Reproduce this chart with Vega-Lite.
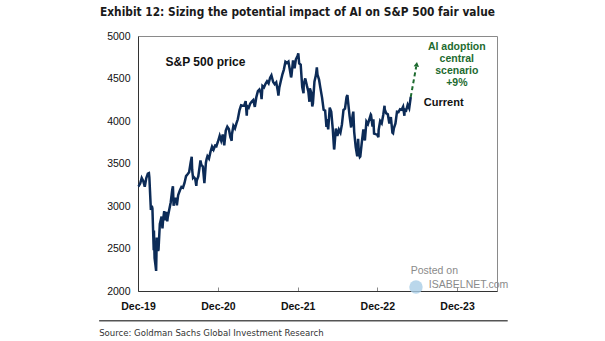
{
  "$schema": "https://vega.github.io/schema/vega-lite/v6.json",
  "width": 359,
  "height": 255,
  "autosize": {"type": "none"},
  "padding": {"left": 138, "top": 36, "right": 108, "bottom": 50},
  "background": "white",
  "title": {
    "text": "Exhibit 12: Sizing the potential impact of AI on S&P 500 fair value",
    "anchor": "start",
    "frame": "group",
    "dx": -38,
    "offset": 3,
    "baseline": "alphabetic",
    "font": "DejaVu Sans Condensed, Roboto, sans-serif",
    "fontSize": 11.8,
    "fontWeight": "bold",
    "color": "#1a1a1a"
  },
  "config": {
    "view": {"stroke": "#8a8a8a", "strokeWidth": 1},
    "font": "Liberation Sans"
  },
  "datasets": {
    "sp": [
      {"d": "2019-12-31", "v": 3231}, {"d": "2020-01-03", "v": 3235}, {"d": "2020-01-10", "v": 3265},
      {"d": "2020-01-17", "v": 3330}, {"d": "2020-01-24", "v": 3295}, {"d": "2020-01-31", "v": 3226},
      {"d": "2020-02-07", "v": 3328}, {"d": "2020-02-14", "v": 3380}, {"d": "2020-02-19", "v": 3386},
      {"d": "2020-02-21", "v": 3338}, {"d": "2020-02-28", "v": 2954}, {"d": "2020-03-03", "v": 3003},
      {"d": "2020-03-06", "v": 2972}, {"d": "2020-03-12", "v": 2481}, {"d": "2020-03-13", "v": 2711},
      {"d": "2020-03-16", "v": 2386}, {"d": "2020-03-20", "v": 2305}, {"d": "2020-03-23", "v": 2237},
      {"d": "2020-03-26", "v": 2630}, {"d": "2020-03-27", "v": 2541}, {"d": "2020-04-01", "v": 2471},
      {"d": "2020-04-03", "v": 2489}, {"d": "2020-04-09", "v": 2790}, {"d": "2020-04-17", "v": 2875},
      {"d": "2020-04-21", "v": 2737}, {"d": "2020-04-24", "v": 2837}, {"d": "2020-04-29", "v": 2940},
      {"d": "2020-05-01", "v": 2831}, {"d": "2020-05-08", "v": 2930}, {"d": "2020-05-13", "v": 2820},
      {"d": "2020-05-15", "v": 2864}, {"d": "2020-05-22", "v": 2955}, {"d": "2020-05-29", "v": 3044},
      {"d": "2020-06-05", "v": 3194}, {"d": "2020-06-08", "v": 3232}, {"d": "2020-06-11", "v": 3002},
      {"d": "2020-06-12", "v": 3041}, {"d": "2020-06-19", "v": 3098}, {"d": "2020-06-26", "v": 3009},
      {"d": "2020-07-02", "v": 3130}, {"d": "2020-07-10", "v": 3185}, {"d": "2020-07-17", "v": 3225},
      {"d": "2020-07-24", "v": 3216}, {"d": "2020-07-31", "v": 3271}, {"d": "2020-08-07", "v": 3351},
      {"d": "2020-08-14", "v": 3373}, {"d": "2020-08-21", "v": 3397}, {"d": "2020-08-28", "v": 3508},
      {"d": "2020-09-02", "v": 3580}, {"d": "2020-09-04", "v": 3427}, {"d": "2020-09-08", "v": 3332},
      {"d": "2020-09-11", "v": 3341}, {"d": "2020-09-18", "v": 3319}, {"d": "2020-09-23", "v": 3237},
      {"d": "2020-09-25", "v": 3298}, {"d": "2020-10-02", "v": 3348}, {"d": "2020-10-09", "v": 3477},
      {"d": "2020-10-12", "v": 3535}, {"d": "2020-10-16", "v": 3484}, {"d": "2020-10-23", "v": 3465},
      {"d": "2020-10-30", "v": 3270}, {"d": "2020-11-06", "v": 3510}, {"d": "2020-11-09", "v": 3550},
      {"d": "2020-11-13", "v": 3585}, {"d": "2020-11-20", "v": 3558}, {"d": "2020-11-27", "v": 3638},
      {"d": "2020-12-04", "v": 3699}, {"d": "2020-12-11", "v": 3663}, {"d": "2020-12-18", "v": 3709},
      {"d": "2020-12-24", "v": 3703}, {"d": "2020-12-31", "v": 3756}, {"d": "2021-01-08", "v": 3825},
      {"d": "2021-01-15", "v": 3768}, {"d": "2021-01-22", "v": 3841}, {"d": "2021-01-29", "v": 3714},
      {"d": "2021-02-05", "v": 3887}, {"d": "2021-02-12", "v": 3934}, {"d": "2021-02-19", "v": 3907},
      {"d": "2021-02-26", "v": 3811}, {"d": "2021-03-04", "v": 3768}, {"d": "2021-03-05", "v": 3842},
      {"d": "2021-03-12", "v": 3943}, {"d": "2021-03-19", "v": 3913}, {"d": "2021-03-26", "v": 3975},
      {"d": "2021-04-01", "v": 4020}, {"d": "2021-04-09", "v": 4129}, {"d": "2021-04-16", "v": 4185},
      {"d": "2021-04-23", "v": 4180}, {"d": "2021-04-30", "v": 4181}, {"d": "2021-05-07", "v": 4233},
      {"d": "2021-05-12", "v": 4063}, {"d": "2021-05-14", "v": 4174}, {"d": "2021-05-21", "v": 4156},
      {"d": "2021-05-28", "v": 4204}, {"d": "2021-06-04", "v": 4230}, {"d": "2021-06-11", "v": 4247},
      {"d": "2021-06-18", "v": 4166}, {"d": "2021-06-25", "v": 4281}, {"d": "2021-07-02", "v": 4352},
      {"d": "2021-07-09", "v": 4370}, {"d": "2021-07-16", "v": 4327}, {"d": "2021-07-19", "v": 4258},
      {"d": "2021-07-23", "v": 4412}, {"d": "2021-07-30", "v": 4395}, {"d": "2021-08-06", "v": 4437},
      {"d": "2021-08-13", "v": 4468}, {"d": "2021-08-20", "v": 4442}, {"d": "2021-08-27", "v": 4509},
      {"d": "2021-09-02", "v": 4537}, {"d": "2021-09-10", "v": 4459}, {"d": "2021-09-17", "v": 4433},
      {"d": "2021-09-24", "v": 4455}, {"d": "2021-10-01", "v": 4357}, {"d": "2021-10-04", "v": 4300},
      {"d": "2021-10-08", "v": 4391}, {"d": "2021-10-15", "v": 4471}, {"d": "2021-10-22", "v": 4545},
      {"d": "2021-10-29", "v": 4605}, {"d": "2021-11-05", "v": 4697}, {"d": "2021-11-12", "v": 4682},
      {"d": "2021-11-19", "v": 4698}, {"d": "2021-11-26", "v": 4595}, {"d": "2021-12-01", "v": 4513},
      {"d": "2021-12-03", "v": 4538}, {"d": "2021-12-10", "v": 4712}, {"d": "2021-12-17", "v": 4620},
      {"d": "2021-12-23", "v": 4726}, {"d": "2021-12-31", "v": 4766}, {"d": "2022-01-03", "v": 4797},
      {"d": "2022-01-07", "v": 4677}, {"d": "2022-01-14", "v": 4663}, {"d": "2022-01-21", "v": 4398},
      {"d": "2022-01-27", "v": 4326}, {"d": "2022-01-28", "v": 4432}, {"d": "2022-02-04", "v": 4501},
      {"d": "2022-02-11", "v": 4419}, {"d": "2022-02-18", "v": 4349}, {"d": "2022-02-23", "v": 4226},
      {"d": "2022-02-25", "v": 4385}, {"d": "2022-03-04", "v": 4329}, {"d": "2022-03-08", "v": 4171},
      {"d": "2022-03-11", "v": 4204}, {"d": "2022-03-18", "v": 4463}, {"d": "2022-03-25", "v": 4543},
      {"d": "2022-03-29", "v": 4632}, {"d": "2022-04-01", "v": 4546}, {"d": "2022-04-08", "v": 4488},
      {"d": "2022-04-14", "v": 4393}, {"d": "2022-04-22", "v": 4272}, {"d": "2022-04-29", "v": 4132},
      {"d": "2022-05-06", "v": 4123}, {"d": "2022-05-12", "v": 3930}, {"d": "2022-05-13", "v": 4024},
      {"d": "2022-05-20", "v": 3901}, {"d": "2022-05-27", "v": 4158}, {"d": "2022-06-03", "v": 4109},
      {"d": "2022-06-10", "v": 3901}, {"d": "2022-06-16", "v": 3667}, {"d": "2022-06-17", "v": 3675},
      {"d": "2022-06-24", "v": 3912}, {"d": "2022-07-01", "v": 3825}, {"d": "2022-07-08", "v": 3899},
      {"d": "2022-07-15", "v": 3863}, {"d": "2022-07-22", "v": 3962}, {"d": "2022-07-29", "v": 4130},
      {"d": "2022-08-05", "v": 4145}, {"d": "2022-08-12", "v": 4280}, {"d": "2022-08-16", "v": 4305},
      {"d": "2022-08-19", "v": 4228}, {"d": "2022-08-26", "v": 4058}, {"d": "2022-09-02", "v": 3924},
      {"d": "2022-09-09", "v": 4067}, {"d": "2022-09-12", "v": 4110}, {"d": "2022-09-16", "v": 3873},
      {"d": "2022-09-23", "v": 3693}, {"d": "2022-09-30", "v": 3586}, {"d": "2022-10-04", "v": 3791},
      {"d": "2022-10-07", "v": 3640}, {"d": "2022-10-12", "v": 3577}, {"d": "2022-10-14", "v": 3583},
      {"d": "2022-10-21", "v": 3752}, {"d": "2022-10-28", "v": 3901}, {"d": "2022-11-04", "v": 3771},
      {"d": "2022-11-11", "v": 3993}, {"d": "2022-11-18", "v": 3965}, {"d": "2022-11-25", "v": 4026},
      {"d": "2022-12-01", "v": 4076}, {"d": "2022-12-02", "v": 4072}, {"d": "2022-12-09", "v": 3934},
      {"d": "2022-12-13", "v": 4019}, {"d": "2022-12-16", "v": 3852}, {"d": "2022-12-23", "v": 3845},
      {"d": "2022-12-30", "v": 3840}, {"d": "2023-01-05", "v": 3808}, {"d": "2023-01-06", "v": 3895},
      {"d": "2023-01-13", "v": 3999}, {"d": "2023-01-20", "v": 3973}, {"d": "2023-01-27", "v": 4071},
      {"d": "2023-02-02", "v": 4180}, {"d": "2023-02-03", "v": 4136}, {"d": "2023-02-10", "v": 4090},
      {"d": "2023-02-17", "v": 4079}, {"d": "2023-02-24", "v": 3970}, {"d": "2023-03-03", "v": 4046},
      {"d": "2023-03-10", "v": 3862}, {"d": "2023-03-13", "v": 3855}, {"d": "2023-03-17", "v": 3917},
      {"d": "2023-03-24", "v": 3971}, {"d": "2023-03-31", "v": 4109}, {"d": "2023-04-07", "v": 4105},
      {"d": "2023-04-14", "v": 4138}, {"d": "2023-04-21", "v": 4133}, {"d": "2023-04-28", "v": 4169},
      {"d": "2023-05-04", "v": 4061}, {"d": "2023-05-05", "v": 4136}, {"d": "2023-05-12", "v": 4124},
      {"d": "2023-05-19", "v": 4192}, {"d": "2023-05-26", "v": 4151}, {"d": "2023-06-02", "v": 4282}
    ]
  },
  "layer": [
    {
      "data": {"name": "sp"},
      "mark": {"type": "line", "color": "#0c2b57", "strokeWidth": 2.5},
      "encoding": {
        "x": {
          "field": "d",
          "type": "temporal",
          "scale": {
            "type": "utc",
            "domain": [
              {"year": 2019, "month": 12, "date": 31, "utc": true},
              {"year": 2024, "month": 7, "date": 1, "utc": true}
            ]
          },
          "axis": {
            "title": null,
            "values": [
              {"year": 2019, "month": 12, "date": 31, "utc": true},
              {"year": 2020, "month": 12, "date": 31, "utc": true},
              {"year": 2021, "month": 12, "date": 31, "utc": true},
              {"year": 2022, "month": 12, "date": 31, "utc": true},
              {"year": 2023, "month": 12, "date": 31, "utc": true}
            ],
            "format": "%b-%y",
            "grid": false,
            "domainColor": "#333333",
            "tickColor": "#8a8a8a",
            "tickSize": -4,
            "labelPadding": 14,
            "labelFlush": false,
            "labelFont": "Liberation Sans",
            "labelFontSize": 10.5,
            "labelFontWeight": "bold",
            "labelColor": "#111111"
          }
        },
        "y": {
          "field": "v",
          "type": "quantitative",
          "scale": {"domain": [2000, 5000], "nice": false, "zero": false},
          "axis": {
            "title": null,
            "values": [2000, 2500, 3000, 3500, 4000, 4500, 5000],
            "format": "d",
            "grid": false,
            "ticks": false,
            "domainColor": "#333333",
            "labelPadding": 8,
            "labelFont": "Liberation Sans",
            "labelFontSize": 10.5,
            "labelColor": "#111111"
          }
        }
      }
    },
    {
      "data": {"values": [{}]},
      "mark": {"type": "text", "text": "S&P 500 price", "align": "left", "baseline": "middle", "font": "Liberation Sans", "fontSize": 12, "fontWeight": "bold", "color": "#111111"},
      "encoding": {
        "x": {"datum": {"year": 2020, "month": 5, "date": 5, "utc": true}, "type": "temporal"},
        "y": {"datum": 4694, "type": "quantitative"}
      }
    },
    {
      "data": {"values": [{}]},
      "mark": {"type": "text", "text": ["AI adoption", "central", "scenario", "+9%"], "align": "center", "baseline": "middle", "lineHeight": 12, "font": "Liberation Sans", "fontSize": 10.5, "fontWeight": "bold", "color": "#1d6b2f"},
      "encoding": {
        "x": {"datum": {"year": 2023, "month": 12, "date": 30, "utc": true}, "type": "temporal"},
        "y": {"datum": 4871, "type": "quantitative"}
      }
    },
    {
      "data": {"values": [{}]},
      "mark": {"type": "text", "text": "Current", "align": "left", "baseline": "middle", "font": "Liberation Sans", "fontSize": 11, "fontWeight": "bold", "color": "#111111"},
      "encoding": {
        "x": {"datum": {"year": 2023, "month": 8, "date": 1, "utc": true}, "type": "temporal"},
        "y": {"datum": 4212, "type": "quantitative"}
      }
    },
    {
      "data": {"values": [{}]},
      "mark": {"type": "rule", "color": "#1d6b2f", "strokeWidth": 2, "strokeDash": [4, 3]},
      "encoding": {
        "x": {"datum": {"year": 2023, "month": 6, "date": 2, "utc": true}, "type": "temporal"},
        "y": {"datum": 4282, "type": "quantitative"},
        "x2": {"datum": {"year": 2023, "month": 6, "date": 27, "utc": true}},
        "y2": {"datum": 4640}
      }
    },
    {
      "data": {"values": [{}]},
      "mark": {"type": "point", "shape": "triangle-up", "filled": true, "size": 30, "angle": 8, "color": "#1d6b2f", "opacity": 1},
      "encoding": {
        "x": {"datum": {"year": 2023, "month": 6, "date": 29, "utc": true}, "type": "temporal"},
        "y": {"datum": 4667, "type": "quantitative"}
      }
    },
    {
      "data": {"values": [{}]},
      "mark": {"type": "point", "shape": "circle", "filled": true, "size": 180, "color": "#a9cde6", "opacity": 0.8},
      "encoding": {
        "x": {"datum": {"year": 2023, "month": 6, "date": 26, "utc": true}, "type": "temporal"},
        "y": {"datum": 2047, "type": "quantitative"}
      }
    },
    {
      "data": {"values": [{}]},
      "mark": {"type": "text", "text": "Posted on", "align": "left", "baseline": "middle", "font": "Liberation Sans", "fontSize": 10.5, "color": "#8a8a8a"},
      "encoding": {
        "x": {"datum": {"year": 2023, "month": 6, "date": 2, "utc": true}, "type": "temporal"},
        "y": {"datum": 2239, "type": "quantitative"}
      }
    },
    {
      "data": {"values": [{}]},
      "mark": {"type": "text", "text": "ISABELNET.com", "align": "left", "baseline": "middle", "font": "Liberation Sans", "fontSize": 10.5, "color": "#8a8a8a"},
      "encoding": {
        "x": {"datum": {"year": 2023, "month": 8, "date": 24, "utc": true}, "type": "temporal"},
        "y": {"datum": 2074, "type": "quantitative"}
      }
    },
    {
      "data": {"values": [{}]},
      "mark": {"type": "rule", "color": "#555555", "strokeWidth": 1.5},
      "encoding": {
        "x": {"datum": {"year": 2019, "month": 7, "date": 6, "utc": true}, "type": "temporal"},
        "x2": {"datum": {"year": 2024, "month": 8, "date": 19, "utc": true}},
        "y": {"datum": 1651, "type": "quantitative"}
      }
    },
    {
      "data": {"values": [{}]},
      "mark": {"type": "text", "text": "Source: Goldman Sachs Global Investment Research", "align": "left", "baseline": "middle", "font": "DejaVu Sans Condensed, Roboto, sans-serif", "fontSize": 9.5, "color": "#333333"},
      "encoding": {
        "x": {"datum": {"year": 2019, "month": 7, "date": 6, "utc": true}, "type": "temporal"},
        "y": {"datum": 1506, "type": "quantitative"}
      }
    }
  ]
}
